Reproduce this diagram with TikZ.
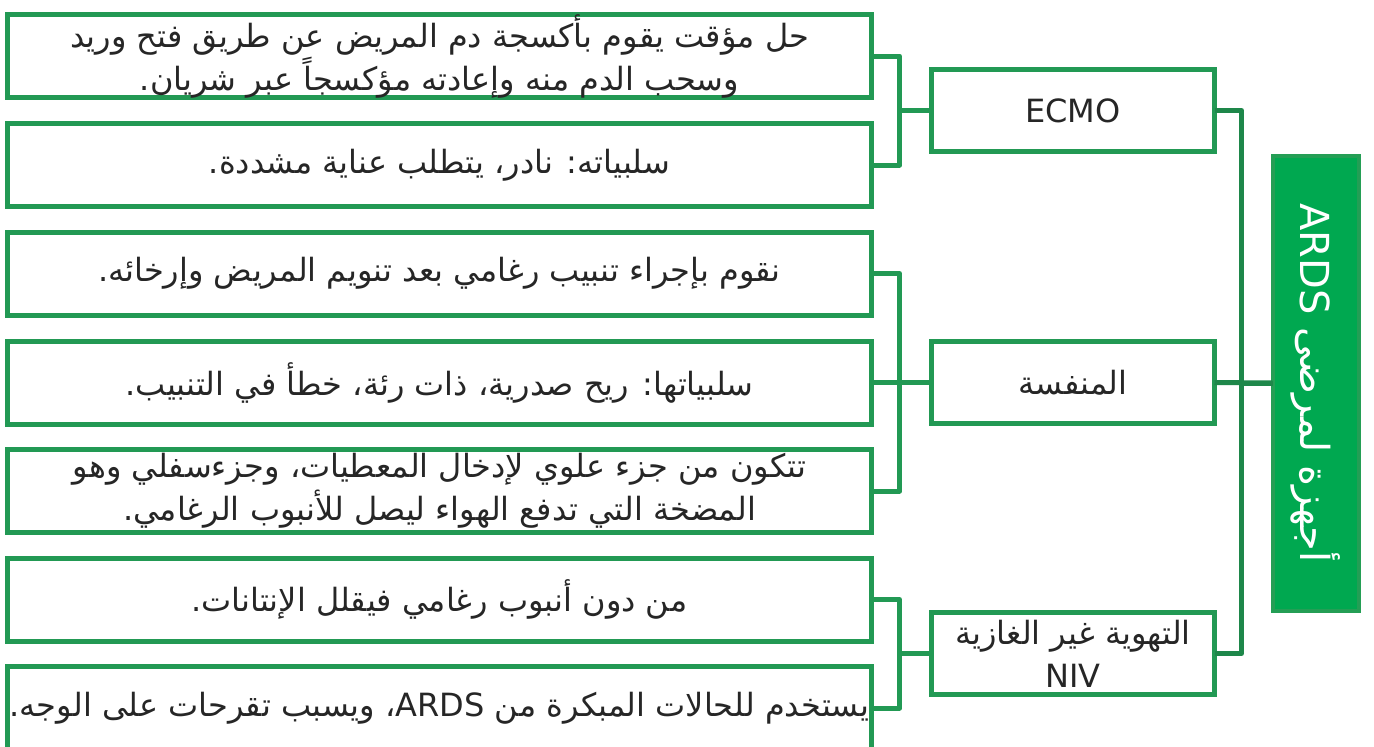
\documentclass[tikz,border=0pt]{standalone}
\usepackage{fontspec}
\setmainfont{DejaVu Sans}
\newfontfamily\arabicfont[Script=Arabic]{DejaVu Sans}
\TeXXeTstate=1
\definecolor{gline}{RGB}{34,153,84}
\definecolor{gdark}{RGB}{30,135,74}
\definecolor{gfill}{RGB}{0,168,80}
\definecolor{gbord}{RGB}{36,158,85}
\definecolor{txt}{RGB}{38,38,38}
\begin{document}
\begin{tikzpicture}[x=1pt,y=-1pt,
  leftbox/.style={draw=gline, line width=5pt, minimum width=864pt, minimum height=83pt,
    inner sep=0pt, outer sep=0pt, align=center, text=txt,
    font=\arabicfont\fontsize{32}{43}\selectfont},
  midbox/.style={draw=gline, line width=5pt, minimum width=283pt, minimum height=82pt,
    inner sep=0pt, outer sep=0pt, align=center, text=txt,
    font=\arabicfont\fontsize{32}{43}\selectfont},
  rootbox/.style={draw=gbord, fill=gfill, line width=4pt, minimum width=455pt, minimum height=86pt,
    inner sep=0pt, outer sep=0pt, text=white, rotate=-90,
    font=\arabicfont\fontsize{40}{48}\selectfont},
  conn/.style={draw=gline, line width=5pt, line join=round},
  rconn/.style={draw=gdark, line width=5pt, line join=round}]
\useasboundingbox (0,0) rectangle (1374,747);
\clip (0,0) rectangle (1374,747);
\fill[white] (0,0) rectangle (1374,747);

% left boxes
\node[leftbox] (b1) at (439.5,56) {\beginR حل مؤقت يقوم بأكسجة دم المريض عن طريق فتح وريد\endR\\\beginR وسحب الدم منه وإعادته مؤكسجاً عبر شريان.\endR};
\node[leftbox] (b2) at (439.5,165) {\beginR سلبياته: نادر، يتطلب عناية مشددة.\endR};
\node[leftbox] (b3) at (439.5,273.5) {\beginR نقوم بإجراء تنبيب رغامي بعد تنويم المريض وإرخائه.\endR};
\node[leftbox] (b4) at (439.5,382.5) {\beginR سلبياتها: ريح صدرية، ذات رئة، خطأ في التنبيب.\endR};
\node[leftbox] (b5) at (439.5,491) {\beginR تتكون من جزء علوي لإدخال المعطيات، وجزءسفلي وهو\endR\\\beginR المضخة التي تدفع الهواء ليصل للأنبوب الرغامي.\endR};
\node[leftbox] (b6) at (439.5,599.5) {\beginR من دون أنبوب رغامي فيقلل الإنتانات.\endR};
\node[leftbox] (b7) at (439.5,708) {\raisebox{3pt}{\beginR يستخدم للحالات المبكرة من \beginL ARDS\endL، ويسبب تقرحات على الوجه.\endR}};

% middle boxes
\node[midbox] (m1) at (1073,110.5) {ECMO};
\node[midbox] (m2) at (1073,382.5) {\beginR المنفسة\endR};
\node[midbox] (m3) at (1073,653.5) {\beginR التهوية غير الغازية\endR\\NIV};

% root
\node[rootbox] (root) at (1315.5,383) {\raisebox{5pt}{\beginR أجهزة لمرضى \beginL ARDS\endL\endR}};

% connectors left
\draw[conn] (b1.east) -- ++(28,0) |- (m1.west);
\draw[conn] (b2.east) -- ++(28,0) |- (m1.west);
\draw[conn] (b3.east) -- ++(28,0) |- (m2.west);
\draw[conn] (b4.east) -- (m2.west);
\draw[conn] (b5.east) -- ++(28,0) |- (m2.west);
\draw[conn] (b6.east) -- ++(28,0) |- (m3.west);
\draw[conn] (b7.east) -- ++(28,0) |- (m3.west);

% connectors right
\draw[rconn] (m1.east) -- ++(27,0) |- (root.south);
\draw[rconn] (m3.east) -- ++(27,0) |- (root.south);
\draw[rconn] (m2.east) -- (root.south);
\end{tikzpicture}
\end{document}
